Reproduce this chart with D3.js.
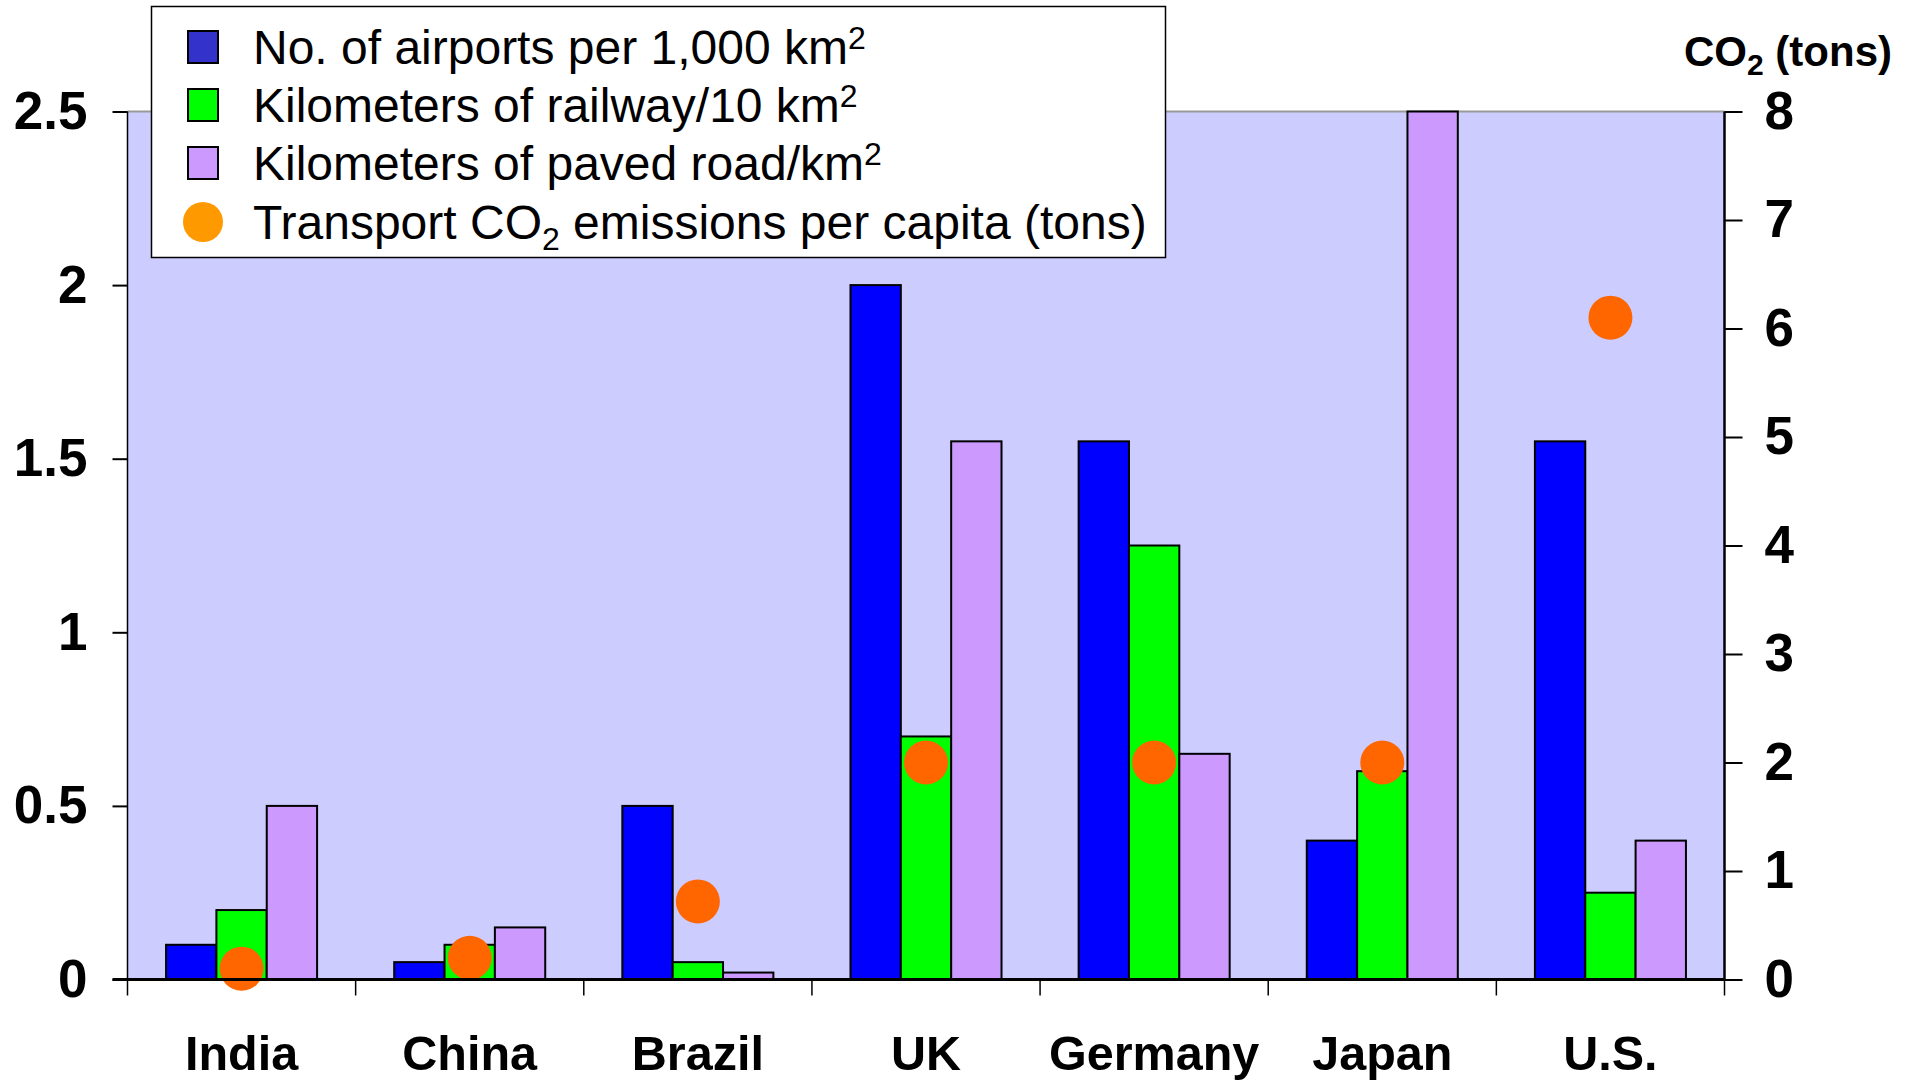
<!DOCTYPE html>
<html><head><meta charset="utf-8">
<script src="https://cdn.jsdelivr.net/npm/d3@7"></script>
<style>body{margin:0;background:#fff}svg{display:block}text{font-family:"Liberation Sans",Arial,Helvetica,sans-serif}</style>
</head><body><svg id="c" width="1919" height="1080"></svg>
<script>
const categories = ["India","China","Brazil","UK","Germany","Japan","U.S."];
const airports = [0.1, 0.05, 0.5, 2.0, 1.55, 0.4, 1.55];
const railway = [0.2, 0.1, 0.05, 0.7, 1.25, 0.6, 0.25];
const road = [0.5, 0.15, 0.02, 1.55, 0.65, 2.5, 0.4];
const co2 = [0.1, 0.2, 0.72, 2.0, 2.0, 2.0, 6.1];
const leftTicks = [0, 0.5, 1, 1.5, 2, 2.5];
const rightTicks = [0,1,2,3,4,5,6,7,8];
const seriesNames = ["airports","railway","road"];

const svg = d3.select("#c");
const L = 127.5, R = 1724.5, T = 111.5, B = 979.5;
const x = d3.scaleBand().domain(categories).range([L, R]).padding(0);
const yL = d3.scaleLinear().domain([0, 2.5]).range([B, T]);
const yR = d3.scaleLinear().domain([0, 8]).range([B, T]);
const groupW = x.bandwidth() * 0.662;
const x1 = d3.scaleBand().domain(seriesNames).range([0, groupW]).padding(0);

// plot background
svg.append("rect").attr("x", L).attr("y", T).attr("width", R - L).attr("height", B - T).attr("fill", "#ccccff");
svg.append("line").attr("x1", L).attr("x2", R).attr("y1", T).attr("y2", T).attr("stroke", "#999").attr("stroke-width", 2);

const seriesData = {airports, railway, road};
const colors = {airports: "#0000ff", railway: "#00ff00", road: "#cc99ff"};
seriesNames.forEach(s => {
  svg.append("g").selectAll("rect").data(categories).join("rect")
    .attr("x", (c) => x(c) + (x.bandwidth() - groupW) / 2 + x1(s))
    .attr("y", (c, i) => yL(seriesData[s][i]))
    .attr("width", x1.bandwidth())
    .attr("height", (c, i) => B - yL(seriesData[s][i]))
    .attr("fill", colors[s]).attr("stroke", "#000").attr("stroke-width", 2);
});

// CO2 dots
svg.append("g").selectAll("circle").data(categories).join("circle")
  .attr("cx", c => x(c) + x.bandwidth() / 2)
  .attr("cy", (c, i) => yR(co2[i]))
  .attr("r", 22).attr("fill", "#ff6600");

// left axis
const gL = svg.append("g").attr("transform", `translate(${L},0)`)
  .call(d3.axisLeft(yL).tickValues(leftTicks).tickSize(15).tickPadding(25).tickFormat(d => String(d)));
gL.select(".domain").attr("stroke", "#000").attr("stroke-width", 1.5).attr("d", `M0,${T}V${B}`);
gL.selectAll(".tick line").attr("stroke-width", 2);
gL.selectAll("text").attr("font-size", 53).attr("font-weight", "bold").attr("fill", "#000");

// right axis
const gR = svg.append("g").attr("transform", `translate(${R},0)`)
  .call(d3.axisRight(yR).tickValues(rightTicks).tickSize(18).tickPadding(22).tickFormat(d3.format("d")));
gR.select(".domain").attr("stroke", "#000").attr("stroke-width", 2.5).attr("d", `M0,${T}V${B}`);
gR.selectAll(".tick line").attr("stroke-width", 2);
gR.selectAll("text").attr("font-size", 53).attr("font-weight", "bold").attr("fill", "#000");

// bottom axis line and boundary ticks
svg.append("line").attr("x1", L - 15).attr("x2", R).attr("y1", B).attr("y2", B).attr("stroke", "#000").attr("stroke-width", 3);
const bounds = categories.map(c => x(c)).concat([R]);
svg.append("g").selectAll("line").data(bounds).join("line")
  .attr("x1", d => d).attr("x2", d => d).attr("y1", B).attr("y2", B + 16)
  .attr("stroke", "#000").attr("stroke-width", 1.5);
svg.append("g").selectAll("text").data(categories).join("text")
  .attr("x", c => x(c) + x.bandwidth() / 2).attr("y", 1070)
  .attr("text-anchor", "middle").attr("font-size", 48.5).attr("font-weight", "bold").text(c => c);

// right axis title
const ttl = svg.append("text").attr("x", 1892).attr("y", 66).attr("text-anchor", "end")
  .attr("font-size", 42).attr("font-weight", "bold");
ttl.append("tspan").text("CO");
ttl.append("tspan").attr("font-size", 30).attr("dy", 9).text("2");
ttl.append("tspan").attr("dy", -9).text(" (tons)");

// legend
const lg = svg.append("g");
lg.append("rect").attr("x", 151.5).attr("y", 6.5).attr("width", 1014).attr("height", 251)
  .attr("fill", "#fff").attr("stroke", "#000").attr("stroke-width", 1.5);
const legendRows = [
  {type: "rect", color: "#3333cc", parts: [["No. of airports per 1,000 km", 0], ["2", "sup"]]},
  {type: "rect", color: "#00ff00", parts: [["Kilometers of railway/10 km", 0], ["2", "sup"]]},
  {type: "rect", color: "#cc99ff", parts: [["Kilometers of paved road/km", 0], ["2", "sup"]]},
  {type: "circle", color: "#ff9900", parts: [["Transport CO", 0], ["2", "sub"], [" emissions per capita (tons)", 0]]}
];
const rowY = [47, 105, 163, 222];
legendRows.forEach((r, i) => {
  const cy = rowY[i];
  if (r.type === "rect") {
    lg.append("rect").attr("x", 188).attr("y", cy - 16).attr("width", 30).attr("height", 32)
      .attr("fill", r.color).attr("stroke", "#000").attr("stroke-width", 2);
  } else {
    lg.append("circle").attr("cx", 203).attr("cy", cy).attr("r", 20).attr("fill", r.color);
  }
  const t = lg.append("text").attr("x", 253).attr("y", cy + 17).attr("font-size", 48);
  r.parts.forEach(p => {
    if (p[1] === "sup") t.append("tspan").attr("font-size", 32).attr("dy", -15).text(p[0]);
    else if (p[1] === "sub") t.append("tspan").attr("font-size", 32).attr("dy", 11).text(p[0]);
    else {
      const ts = t.append("tspan").text(p[0]);
      if (t.selectAll("tspan").size() > 1) ts.attr("dy", -11);
    }
  });
});
</script></body></html>
